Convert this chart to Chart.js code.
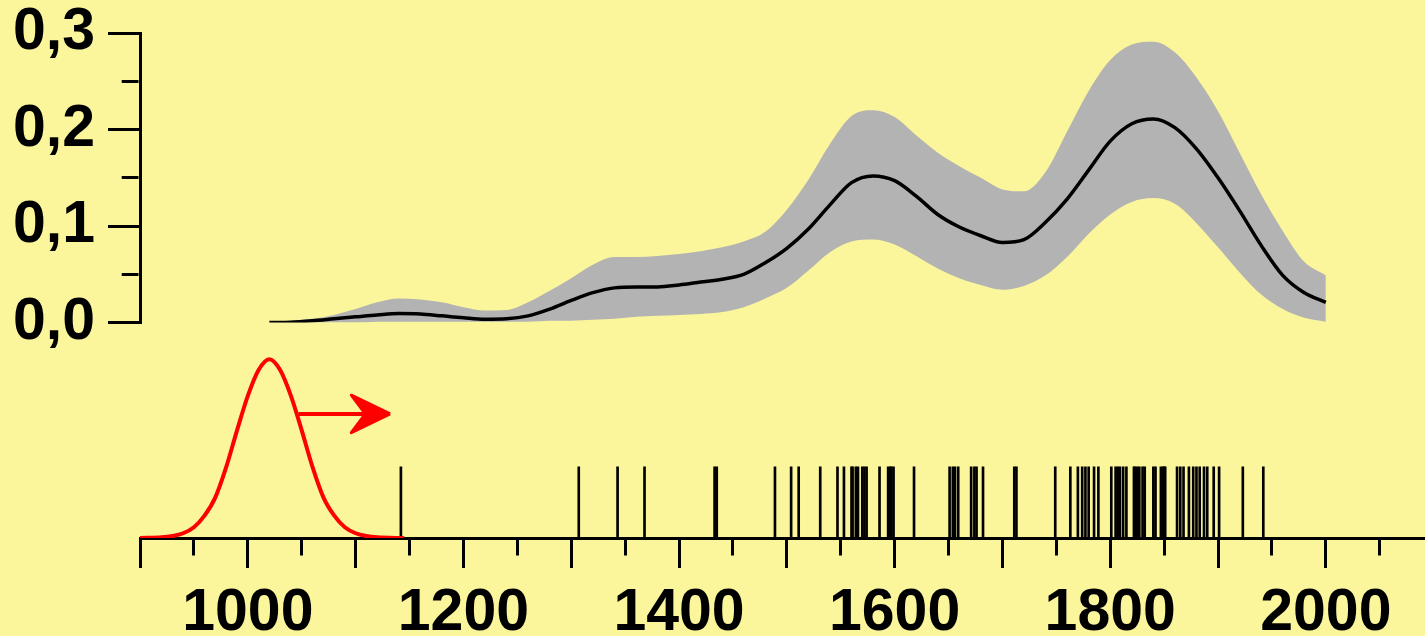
<!DOCTYPE html>
<html>
<head>
<meta charset="utf-8">
<script src="https://cdn.jsdelivr.net/npm/chart.js@4.4.1/dist/chart.umd.min.js"></script>
<style>
html,body{margin:0;padding:0;background:#fbf59b;}
#wrap{width:1425px;height:636px;position:relative;}
</style>
</head>
<body>
<div id="wrap"><canvas id="c"></canvas></div>
<script>
// ---- data ----
const years = [1020,1040,1060,1080,1100,1120,1140,1160,1180,1200,1220,1240,1260,1280,1300,1320,1340,1360,1380,1400,1420,1440,1460,1480,1500,1520,1540,1560,1580,1600,1620,1640,1660,1680,1700,1720,1740,1760,1780,1800,1820,1840,1860,1880,1900,1920,1940,1960,1980,2000];
const meanDensity = [0,0.0005,0.002,0.004,0.006,0.008,0.0095,0.009,0.007,0.005,0.0035,0.004,0.007,0.014,0.023,0.031,0.036,0.037,0.037,0.039,0.042,0.045,0.050,0.062,0.077,0.097,0.122,0.145,0.152,0.147,0.131,0.112,0.099,0.090,0.083,0.086,0.104,0.128,0.158,0.188,0.206,0.211,0.202,0.180,0.150,0.116,0.080,0.049,0.031,0.021];
const upperBand = [0,0.002,0.004,0.008,0.014,0.021,0.025,0.024,0.021,0.016,0.0125,0.013,0.021,0.033,0.046,0.060,0.068,0.068,0.069,0.071,0.074,0.078,0.084,0.094,0.117,0.148,0.185,0.214,0.220,0.213,0.194,0.176,0.162,0.150,0.138,0.136,0.156,0.198,0.240,0.272,0.288,0.291,0.280,0.254,0.219,0.176,0.133,0.095,0.063,0.049];
const lowerBand = [0,0,0,0,0,0.001,0.001,0.001,0.001,0.001,0.001,0.001,0.001,0.002,0.002,0.003,0.004,0.006,0.007,0.008,0.009,0.011,0.016,0.025,0.036,0.054,0.073,0.084,0.086,0.081,0.069,0.056,0.046,0.039,0.034,0.038,0.049,0.068,0.092,0.112,0.125,0.129,0.123,0.103,0.078,0.052,0.029,0.014,0.005,0.001];

const kernelYears = [900,920,930,940,950,960,970,980,990,1000,1010,1020,1030,1040,1050,1060,1070,1080,1090,1100,1110,1120,1145];
const kernelHeight = [0,0.003,0.009,0.022,0.05,0.105,0.19,0.33,0.5,0.66,0.78,0.83,0.78,0.66,0.5,0.33,0.19,0.105,0.05,0.022,0.009,0.003,0];

const eventYears = [1142,1307,1343,1368,1433,1435,1489,1504,1511,1531,1547,1553,1560,1561,1564,1566,1570,1572,1574,1586,1594,1596,1597,1599,1618,1651,1654,1656,1659,1671,1674,1676,1682,1711,1713,1749,1763,1770,1774,1777,1780,1785,1789,1801,1805,1807,1809,1812,1815,1822,1823,1825,1827,1830,1832,1840,1842,1847,1849,1850,1851,1862,1865,1868,1873,1877,1880,1883,1887,1890,1896,1901,1923,1942];

const xTickLabels = ['1000','1200','1400','1600','1800','2000'];
const yTickValues = [0,0.05,0.1,0.15,0.2,0.25,0.3];
const yTickLabels = ['0,0','','0,1','','0,2','','0,3'];

// ---- presentation settings ----
const RUG_TOP = 0.331;          // in lower-panel units
const ARROW_LEVEL = 0.576;
const ARROW_FROM = 1047, ARROW_TIP = 1132, ARROW_BACK = 1096, ARROW_NOTCH = 1109, ARROW_HALF = 0.087;
const GRAY = '#b3b3b3', RED = '#ff0000';
const FAMILY = "'Liberation Sans', Arial, sans-serif";
const X_FONT = {family: FAMILY, size: 59, weight: 'bold', lineHeight: 1};
const Y_FONT = {family: FAMILY, size: 59, weight: 'bold', lineHeight: 0.4};

const pts = (xs, ys) => xs.map((x, i) => ({x, y: ys[i]}));

new Chart(document.getElementById('c'), {
  type: 'line',
  data: {
    datasets: [
      {data: pts(years, upperBand), yAxisID: 'y', borderWidth: 0, pointRadius: 0, fill: '+1', backgroundColor: GRAY, cubicInterpolationMode: 'monotone', order: 3},
      {data: pts(years, lowerBand), yAxisID: 'y', borderWidth: 0, pointRadius: 0, fill: false, cubicInterpolationMode: 'monotone', order: 4},
      {data: pts(years, meanDensity), yAxisID: 'y', borderColor: '#000', borderWidth: 3.5, pointRadius: 0, fill: false, cubicInterpolationMode: 'monotone', order: 0},
      {data: pts(kernelYears, kernelHeight), yAxisID: 'y2', borderColor: RED, borderWidth: 4, pointRadius: 0, fill: false, cubicInterpolationMode: 'monotone', order: 0},
      {data: [{x: ARROW_FROM, y: ARROW_LEVEL}, {x: ARROW_NOTCH + 2, y: ARROW_LEVEL}], yAxisID: 'y2', borderColor: RED, borderWidth: 4, pointRadius: 0, fill: false, order: 0},
      {data: [{x: ARROW_TIP, y: ARROW_LEVEL}, {x: ARROW_BACK, y: ARROW_LEVEL + ARROW_HALF}, {x: ARROW_NOTCH, y: ARROW_LEVEL}, {x: ARROW_BACK, y: ARROW_LEVEL - ARROW_HALF}, {x: ARROW_TIP, y: ARROW_LEVEL}],
       yAxisID: 'y2', borderColor: RED, backgroundColor: RED, borderWidth: 3, borderJoinStyle: 'round', pointRadius: 0, fill: 'shape', tension: 0, order: 0},
      {type: 'bar', data: eventYears.map(x => ({x, y: RUG_TOP})), yAxisID: 'y2', backgroundColor: '#000', barThickness: 2, grouped: false, order: 1}
    ]
  },
  options: {
    responsive: true,
    maintainAspectRatio: false,
    animation: false,
    events: [],
    layout: {padding: {left: 0, top: 33, right: 0, bottom: -23}},
    plugins: {legend: {display: false}, tooltip: {enabled: false}},
    scales: {
      x: {
        type: 'linear', position: 'bottom', min: 900, max: 2092, offset: false,
        border: {display: true, color: '#000', width: 3},
        grid: {display: true, drawOnChartArea: false, drawTicks: true, offset: false, color: '#000', lineWidth: 3, tickLength: 30,
               tickBorderDash: ctx => (ctx.tick && ctx.tick.value % 100 === 0) ? [] : [15.5, 200]},
        ticks: {stepSize: 50, includeBounds: false, autoSkip: false, maxRotation: 0, minRotation: 0, padding: 16, color: '#000', font: X_FONT,
                callback: v => xTickLabels.includes(String(v)) ? String(v) : ''}
      },
      y: {
        type: 'linear', position: 'left', stack: 'panels', stackWeight: 289.5, weight: 1, min: 0, max: 0.3,
        border: {display: true, color: '#000', width: 3},
        grid: {display: true, drawOnChartArea: false, drawTicks: true, color: '#000', lineWidth: 3, tickLength: 32,
               tickBorderDash: ctx => (ctx.index % 2 === 0) ? [] : [0, 13.7, 16.8, 200]},
        afterBuildTicks: scale => { scale.ticks = yTickValues.map(v => ({value: v})); },
        ticks: {autoSkip: false, padding: 13, color: '#000', font: Y_FONT,
                callback: (v, i) => yTickLabels[i] || ''}
      },
      y2: {
        type: 'linear', position: 'left', stack: 'panels', stackWeight: 215.3, weight: 0, min: 0, max: 1, display: false
      }
    }
  }
});
</script>
</body>
</html>
